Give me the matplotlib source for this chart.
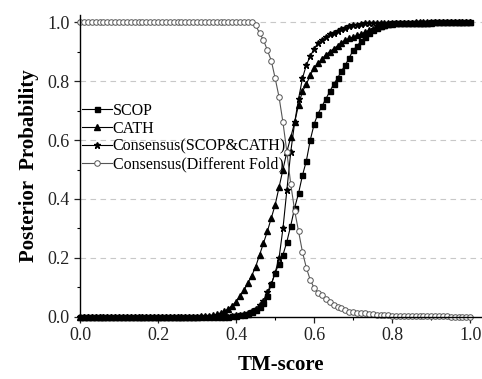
import matplotlib.pyplot as plt
import numpy as np

# TM-score grid, step 0.01
tm_score = np.linspace(0.0, 1.0, 101)

# values (0.00 ... 1.00)
scop = ([0.0] * 39 +
        [0.002, 0.003, 0.005, 0.007, 0.010, 0.015, 0.022, 0.032, 0.046, 0.070,
         0.110, 0.150, 0.180, 0.210, 0.255, 0.310, 0.370, 0.420, 0.480, 0.530,
         0.600, 0.655, 0.690, 0.715, 0.740, 0.765, 0.790, 0.810, 0.835, 0.855,
         0.880, 0.905, 0.920, 0.935, 0.950, 0.965, 0.975, 0.982, 0.988, 0.992,
         0.995, 0.997, 0.998] +
        [0.999] * 8 + [1.0] * 11)

cath = ([0.0] * 31 +
        [0.002, 0.003, 0.004, 0.006, 0.009, 0.013, 0.019, 0.027, 0.038, 0.052,
         0.070, 0.090, 0.115, 0.140, 0.170, 0.210, 0.250, 0.290, 0.335, 0.380,
         0.440, 0.500, 0.560, 0.610, 0.660, 0.720, 0.765, 0.790, 0.820, 0.845,
         0.860, 0.875, 0.890, 0.900, 0.910, 0.920, 0.930, 0.940, 0.945, 0.950,
         0.955, 0.960, 0.966, 0.972, 0.978, 0.983, 0.987, 0.990, 0.993, 0.995,
         0.997, 0.998] +
        [0.999] * 8 + [1.0] * 10)

consensus = ([0.0] * 39 +
             [0.003, 0.005, 0.007, 0.010, 0.014, 0.020, 0.028, 0.040, 0.055, 0.085,
              0.110, 0.150, 0.200, 0.300, 0.430, 0.560, 0.660, 0.740, 0.810, 0.855,
              0.885, 0.910, 0.930, 0.940, 0.950, 0.960, 0.965, 0.970, 0.977, 0.982,
              0.986, 0.990, 0.992, 0.994, 0.996, 0.997, 0.998] +
             [0.999] * 10 + [1.0] * 15)

diff_fold = ([1.0] * 45 +
             [0.990, 0.963, 0.940, 0.905, 0.870, 0.810, 0.746, 0.660, 0.560, 0.450,
              0.360, 0.290, 0.220, 0.166, 0.125, 0.098, 0.082, 0.075, 0.062, 0.050,
              0.040, 0.034, 0.030, 0.024, 0.017, 0.015, 0.013, 0.013, 0.012, 0.011,
              0.010, 0.007, 0.006, 0.005, 0.005, 0.004] +
             [0.003] * 8 + [0.002] * 6 + [0.001] * 6)

plt.rcParams['font.family'] = ['Liberation Serif', 'DejaVu Serif']

fig = plt.figure(figsize=(4.82, 3.79), dpi=100)
ax = fig.add_axes([0.166, 0.164, 0.834, 0.796])

ax.plot(tm_score, scop, '-s', color='black', lw=0.8, ms=3.6, clip_on=False, label='SCOP')
ax.plot(tm_score, cath, '-^', color='black', lw=0.8, ms=4.2, clip_on=False, label='CATH')
ax.plot(tm_score, consensus, '-*', color='black', lw=0.8, ms=4.6, clip_on=False,
        label='Consensus(SCOP&CATH)')
ax.plot(tm_score, diff_fold, '-o', color='#555555', mfc='white', mec='#555555', lw=0.8,
        ms=4.0, mew=0.7, clip_on=False, label='Consensus(Different Fold)')

ax.set_xlim(0, 1.03)
ax.set_ylim(0, 1.024)
ax.set_xticks([0.0, 0.2, 0.4, 0.6, 0.8, 1.0])
ax.set_yticks([0.0, 0.2, 0.4, 0.6, 0.8, 1.0])
ax.set_xticks(np.arange(0.1, 1.0, 0.2), minor=True)
ax.set_yticks(np.arange(0.1, 1.0, 0.2), minor=True)
ax.tick_params(which='major', direction='out', length=4, width=0.9, labelsize=13, colors='#222222')
ax.tick_params(which='minor', direction='out', length=2.5, width=0.8)
ax.yaxis.set_major_formatter(plt.FormatStrFormatter('%.1f'))
ax.xaxis.set_major_formatter(plt.FormatStrFormatter('%.1f'))

for s in ['top', 'right']:
    ax.spines[s].set_visible(False)
for s in ['left', 'bottom']:
    ax.spines[s].set_linewidth(1.0)

for gy in [0.2, 0.4, 0.6, 0.8, 1.0]:
    ax.axhline(gy, color='#c8c8c8', lw=0.8, ls=(0, (5, 4)), zorder=0)

ax.set_xlabel('TM-score', fontsize=15, fontweight='bold', labelpad=8)
ax.set_ylabel('Posterior  Probability', fontsize=15, fontweight='bold', labelpad=6)

ax.legend(loc='upper left', bbox_to_anchor=(-0.012, 0.73), frameon=False, fontsize=11.5,
          handlelength=1.9, handletextpad=0.05, labelspacing=0.12, borderaxespad=0)

fig.savefig('out.png', dpi=100)
